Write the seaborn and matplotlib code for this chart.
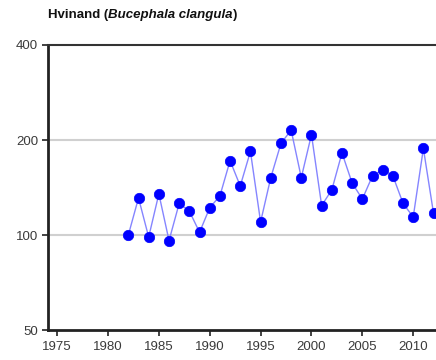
import matplotlib
matplotlib.use('Agg')
import matplotlib.pyplot as plt
import matplotlib.ticker as mticker
import seaborn as sns
import pandas as pd

# Hvinand index values
years = list(range(1982, 2013))
index_values = [100, 131, 98.5, 135, 96, 126, 119, 102, 122, 133,
                172, 143, 184, 110, 152, 195, 215, 152, 208, 124,
                139, 182, 146, 130, 154, 161, 154, 126, 114, 188, 117]

y_ticks = [50, 100, 200, 400]
x_ticks = [1975, 1980, 1985, 1990, 1995, 2000, 2005, 2010]

df = pd.DataFrame({'year': years, 'index': index_values})

sns.set_style('white')
plt.rcParams['font.family'] = ['Liberation Sans', 'DejaVu Sans']

fig = plt.figure(figsize=(4.36, 3.6), dpi=100)
ax = fig.add_axes([0.110, 0.0833, 0.890, 0.7917])

sns.lineplot(data=df, x='year', y='index', ax=ax, color='#8585ff', linewidth=1.0,
             marker='o', markersize=7.5, markerfacecolor='#0000ff',
             markeredgecolor='#0000ff', markeredgewidth=0.5)

ax.set_yscale('log')
ax.set_ylim(50, 400)
ax.set_xlim(1974.1, 2012.24)
ax.yaxis.set_major_locator(mticker.FixedLocator(y_ticks))
ax.yaxis.set_major_formatter(mticker.FixedFormatter([str(t) for t in y_ticks]))
ax.yaxis.set_minor_locator(mticker.NullLocator())
ax.xaxis.set_major_locator(mticker.FixedLocator(x_ticks))
ax.xaxis.set_minor_locator(mticker.MultipleLocator(1))

for v in [100, 200]:
    ax.axhline(v, color='#d0d0d0', linewidth=1.5, zorder=0)

ax.spines['left'].set_linewidth(2.0)
ax.spines['bottom'].set_linewidth(2.0)
ax.spines['top'].set_linewidth(1.5)
ax.spines['top'].set_color('#333333')
ax.spines['left'].set_color('#222222')
ax.spines['bottom'].set_color('#222222')
ax.spines['right'].set_visible(False)

ax.tick_params(axis='both', which='major', direction='out', length=4, width=1.2,
               colors='#222222', labelsize=9.5, labelcolor='#3a3a3a', pad=3)
ax.tick_params(axis='x', which='major', pad=4)
ax.tick_params(axis='x', which='minor', direction='out', length=2, width=0.8,
               colors='#444444')
ax.tick_params(left=True, bottom=True)
ax.set_xlabel('')
ax.set_ylabel('')

title_y = 0.957
title_kw = dict(fontsize=9.5, fontweight='bold', va='center', ha='left', color='#111111')
t1 = fig.text(0.110, title_y, 'Hvinand (', **title_kw)
fig.canvas.draw()
x1 = t1.get_window_extent().x1 / fig.bbox.width
t2 = fig.text(x1, title_y, 'Bucephala clangula', style='italic', **title_kw)
fig.canvas.draw()
x2 = t2.get_window_extent().x1 / fig.bbox.width
fig.text(x2, title_y, ')', **title_kw)

fig.savefig('out.png', dpi=100)
